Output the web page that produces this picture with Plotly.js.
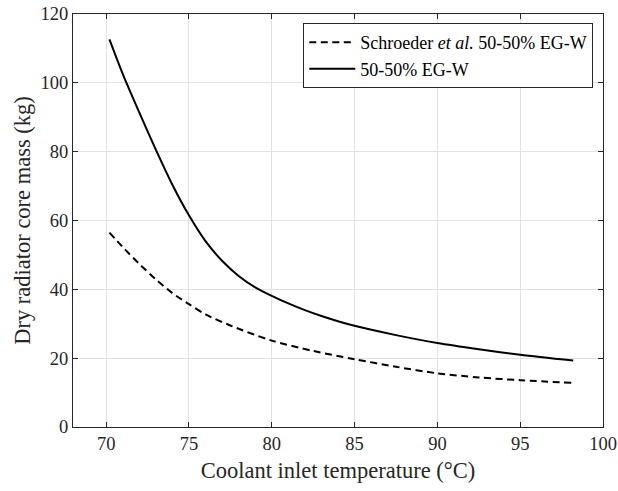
<!DOCTYPE html>
<html>
<head>
<meta charset="utf-8">
<script src="https://cdn.plot.ly/plotly-3.0.1.min.js"></script>
<style>html,body{margin:0;padding:0;background:#fff;}#chart{width:618px;height:491px;}</style>
</head>
<body>
<div id="chart"></div>
<script>
// Coolant inlet temperature (°C) and dry radiator core mass (kg)
const tempSolid = [70.2, 71, 72, 73, 74, 75, 76, 77, 78, 79, 80, 81, 82, 83, 84, 85, 87.5, 90, 92.5, 95, 98.2];
// 50-50% EG-W
const massSolid = [112.6, 102.6, 91.4, 80.6, 70.4, 61.5, 54.0, 48.3, 43.9, 40.6, 38.1, 35.9, 33.95, 32.25, 30.75, 29.4, 26.7, 24.4, 22.6, 21.0, 19.3];
const tempDashed = [70.2, 71, 72, 73, 74, 75, 76, 77.5, 80, 82.5, 85, 87.5, 90, 92.5, 95, 98.2];
// Schroeder et al. 50-50% EG-W
const massDashed = [56.5, 52.3, 47.4, 42.9, 38.9, 35.7, 32.7, 29.5, 25.1, 22.1, 19.7, 17.5, 15.6, 14.4, 13.6, 12.8];

const xTicks = [70, 75, 80, 85, 90, 95, 100];
const yTicks = [0, 20, 40, 60, 80, 100, 120];

const serif = "'Liberation Serif', 'Times New Roman', serif";

const traces = [
  {x: tempDashed, y: massDashed, mode: 'lines', type: 'scatter',
   line: {shape: 'spline', smoothing: 0.8, color: '#000', width: 2, dash: '7px,4.5px'},
   name: 'Schroeder <i>et al.</i> 50-50% EG-W'},
  {x: tempSolid, y: massSolid, mode: 'lines', type: 'scatter',
   line: {shape: 'spline', smoothing: 0.8, color: '#000', width: 2},
   name: '50-50% EG-W'}
];

const axisCommon = {
  showline: true, mirror: 'ticks', linecolor: '#262626', linewidth: 1,
  ticks: 'inside', ticklen: 5, tickcolor: '#262626',
  showgrid: true, gridcolor: '#e3e3e3', gridwidth: 1, zeroline: false,
  tickfont: {family: serif, size: 18.5, color: '#262626'}
};

const layout = {
  width: 618, height: 491,
  margin: {l: 73, r: 15, t: 14, b: 64},
  paper_bgcolor: '#fff', plot_bgcolor: '#fff',
  showlegend: true,
  legend: {x: 0.4345, y: 0.978, xanchor: 'left', yanchor: 'top', bgcolor: '#fff', bordercolor: '#262626', borderwidth: 1,
    font: {family: serif, size: 18, color: '#000'}, tracegroupgap: 0, itemwidth: 46},
  xaxis: Object.assign({}, axisCommon, {range: [68, 100], tickvals: xTicks, ticktext: xTicks.map(String),
    title: {text: 'Coolant inlet temperature (°C)', font: {family: serif, size: 22.5, color: '#262626'}, standoff: 9}}),
  yaxis: Object.assign({}, axisCommon, {range: [0, 120], tickvals: yTicks, ticktext: yTicks.map(String),
    title: {text: 'Dry radiator core mass (kg)', font: {family: serif, size: 22.5, color: '#262626'}, standoff: 3}})
};

Plotly.newPlot('chart', traces, layout, {displayModeBar: false, staticPlot: true});
</script>
</body>
</html>
